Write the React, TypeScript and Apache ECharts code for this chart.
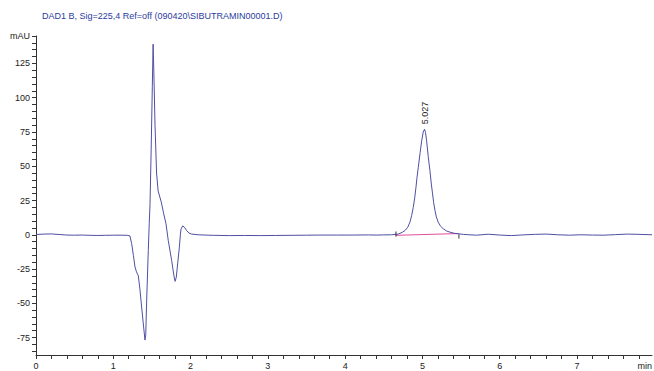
import React, { useEffect, useRef } from "react";
import * as echarts from "echarts";

const chartTitle = "DAD1 B, Sig=225,4 Ref=off (090420\\SIBUTRAMIN00001.D)";

// retention time (min)
const times = [
  0.0, 0.1, 0.2, 0.3, 0.4, 0.5, 0.6, 0.7, 0.8, 0.9, 1.0, 1.1, 1.18,
  1.215, 1.238, 1.26, 1.281, 1.3, 1.324, 1.345, 1.358, 1.385, 1.41, 1.42,
  1.432, 1.445, 1.453, 1.465, 1.475, 1.49, 1.505, 1.515, 1.525, 1.54, 1.56,
  1.58, 1.62, 1.65, 1.682, 1.711, 1.755, 1.785, 1.8, 1.815, 1.835, 1.855,
  1.868, 1.876, 1.898, 1.92, 1.949, 1.98, 2.014, 2.1, 2.225, 2.3, 2.5, 2.7,
  2.9, 3.1, 3.3, 3.5, 3.7, 3.9, 4.1, 4.3, 4.4, 4.5, 4.6, 4.687, 4.74, 4.774,
  4.81, 4.838, 4.86, 4.881, 4.9, 4.916, 4.93, 4.946, 4.97, 4.99, 5.01, 5.027,
  5.04, 5.054, 5.075, 5.097, 5.115, 5.131, 5.145, 5.162, 5.18, 5.204, 5.235,
  5.269, 5.31, 5.356, 5.41, 5.463, 5.53, 5.6, 5.7, 5.85, 6.0, 6.15, 6.3,
  6.45, 6.6, 6.75, 6.9, 7.05, 7.2, 7.35, 7.5, 7.65, 7.8, 7.97,
];

// absorbance (mAU)
const signal = [
  0.2, 0.5, 0.6, 0.2, -0.2, -0.3, -0.2, -0.4, -0.5, -0.4, -0.3, -0.3, -0.4,
  -0.8, -6.5, -15, -23.5, -27, -30, -40, -47.7, -63, -76.8, -73,
  -47.7, -25, -11.4, 8, 22, 62, 108, 139, 118, 80, 45,
  32, 24, 16, 8, -4.1, -18.7, -30, -34, -31, -20, -9,
  0, 4, 6.5, 5.5, 3.1, 1.2, 0.5, 0, -0.3, -0.4, -0.6, -0.5,
  -0.6, -0.5, -0.4, -0.3, -0.2, -0.2, -0.2, -0.1, -0.2, -0.1, 0, 0.5, 1.8, 3.1,
  5.5, 9.2, 14, 20, 27, 34.6, 42, 49.1, 60, 68.5, 75, 77,
  74.5, 68.5, 57, 46.7, 37, 29.8, 23.5, 17.7, 13, 9.2, 6.2,
  4.4, 2.8, 1.9, 1.1, 0.7, 0.3, 0, -0.3, 0.4, -0.2, -0.6, -0.1,
  0.3, 0.5, 0, -0.3, 0, -0.2, -0.3, 0.1, 0.5, 0.3, 0,
];

const xTickLabels = [0, 1, 2, 3, 4, 5, 6, 7];
const yTickLabels = [-75, -50, -25, 0, 25, 50, 75, 100, 125];

const peakTime = 5.027;
const peakHeight = 77;
const peakLabel = "5.027";

const baselineTimes = [4.657, 5.472];
const baselineValues = [-0.4, 0.9];
const startMark = [[4.657, 2.4], [4.657, -1.4]];
const endMark = [[5.472, 0.3], [5.472, -2.8]];

const X_MAX = 7.97;
const Y_MIN = -87.7;
const Y_MAX = 145;

const FONT = "'Liberation Sans', Arial, Helvetica, sans-serif";

export default function App() {
  const ref = useRef<HTMLDivElement>(null);

  useEffect(() => {
    if (!ref.current) return;
    const chart = echarts.init(ref.current, undefined, { renderer: "svg" });

    const xMinor: number[] = [];
    for (let i = 0; i <= 39; i++) xMinor.push(Math.round(i * 2) / 10);
    const yMinor: number[] = [];
    for (let v = -85; v <= 140; v += 5) yMinor.push(v);
    yMinor.push(Y_MAX);

    const lineData = times.map((t, i) => [t, signal[i]]);
    const baseData = baselineTimes.map((t, i) => [t, baselineValues[i]]);

    chart.setOption({
      animation: false,
      textStyle: { fontFamily: FONT },
      title: {
        text: chartTitle,
        left: 37,
        top: 6,
        textStyle: {
          fontSize: 9,
          fontWeight: "normal",
          color: "#2b3c9e",
          fontFamily: FONT,
        },
      },
      grid: {
        left: 36,
        right: 2,
        top: 36,
        bottom: 16,
        containLabel: false,
        outerBoundsMode: "none",
      },
      xAxis: {
        type: "value",
        min: 0,
        max: X_MAX,
        splitLine: { show: false },
        axisLine: { show: true, onZero: false, lineStyle: { color: "#333", width: 1 } },
        axisTick: {
          show: true,
          customValues: xMinor,
          length: 4,
          lineStyle: { color: "#333" },
        },
        axisLabel: {
          customValues: [...xTickLabels, X_MAX],
          formatter: (v: number) => (v > 7.5 ? "min" : String(v)),
          alignMaxLabel: "right",
          fontSize: 9,
          color: "#222",
          margin: 6,
          fontFamily: FONT,
        },
      },
      yAxis: {
        type: "value",
        min: Y_MIN,
        max: Y_MAX,
        splitLine: { show: false },
        axisLine: { show: true, lineStyle: { color: "#333", width: 1 } },
        axisTick: {
          show: true,
          customValues: yMinor,
          length: 4,
          lineStyle: { color: "#333" },
        },
        axisLabel: {
          customValues: [...yTickLabels, Y_MAX],
          formatter: (v: number) => (v === Y_MAX ? "mAU" : String(v)),
          fontSize: 9,
          color: "#222",
          margin: 6,
          fontFamily: FONT,
        },
      },
      series: [
        {
          type: "line",
          data: baseData,
          symbol: "none",
          silent: true,
          lineStyle: { color: "#e0509a", width: 1 },
          z: 1,
        },
        {
          type: "line",
          data: startMark,
          symbol: "none",
          silent: true,
          lineStyle: { color: "#333", width: 1 },
          z: 3,
        },
        {
          type: "line",
          data: endMark,
          symbol: "none",
          silent: true,
          lineStyle: { color: "#333", width: 1 },
          z: 3,
        },
        {
          type: "line",
          data: lineData,
          symbol: "none",
          silent: true,
          lineStyle: { color: "#4f4fa3", width: 1 },
          z: 2,
          markPoint: {
            symbol: "circle",
            symbolSize: 0,
            silent: true,
            data: [{ coord: [peakTime, peakHeight], value: peakLabel }],
            label: {
              show: true,
              formatter: peakLabel,
              position: "top",
              rotate: 90,
              align: "left",
              verticalAlign: "middle",
              distance: 5,
              fontSize: 9,
              color: "#222",
              fontFamily: FONT,
            },
          },
        },
      ],
    });

    return () => chart.dispose();
  }, []);

  return (
    <div
      ref={ref}
      style={{ position: "fixed", left: 0, top: 0, width: 654, height: 371, background: "#fff" }}
    />
  );
}
